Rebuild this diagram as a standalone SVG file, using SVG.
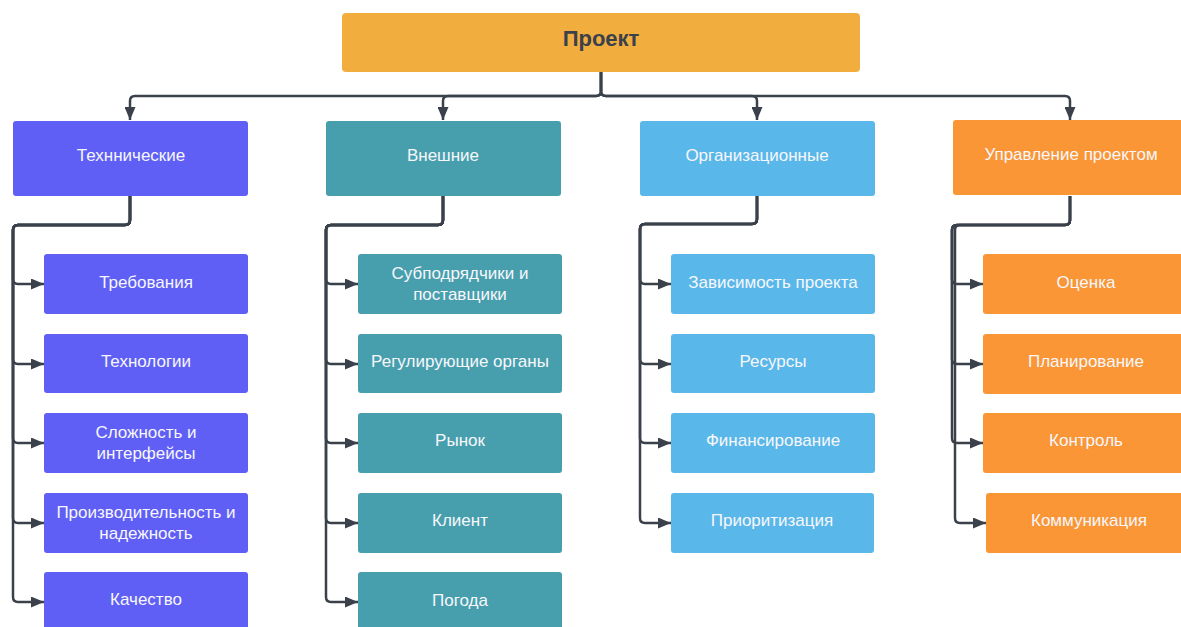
<svg xmlns="http://www.w3.org/2000/svg" width="1181" height="627" viewBox="0 0 1181 627">
<style>
.t{font-family:"Liberation Sans",Arial,sans-serif;font-size:17px;fill:#f7f7fb;text-anchor:middle}
.title{font-family:"Liberation Sans",Arial,sans-serif;font-size:22px;font-weight:bold;fill:#3a414a;text-anchor:middle}
.c{fill:none;stroke:#3a414a;stroke-width:2.5;marker-end:url(#ah)}
.pu{fill:#5f5ff6}.te{fill:#479fae}.bl{fill:#5ab7ea}.or{fill:#fa9636}
</style>
<defs>
<marker id="ah" markerUnits="userSpaceOnUse" markerWidth="13" markerHeight="11" refX="13" refY="5.5" orient="auto" viewBox="0 0 13 11">
<path d="M0,0 L13,5.5 L0,11 z" fill="#3a414a"/>
</marker>
</defs>
<rect width="1181" height="627" fill="#ffffff"/>
<g id="connectors">
<path class="c" d="M601,72 V91 Q601,96 596,96 H135 Q130,96 130,101 V120"/>
<path class="c" d="M601,72 V91 Q601,96 596,96 H448 Q443,96 443,101 V120"/>
<path class="c" d="M601,72 V91 Q601,96 606,96 H752 Q757,96 757,101 V120"/>
<path class="c" d="M601,72 V91 Q601,96 606,96 H1065 Q1070,96 1070,101 V120"/>
<path class="c" d="M130,196 V220 Q130,225 125,225 H18 Q13,225 13,230 V279 Q13,284 18,284 H44"/>
<path class="c" d="M130,196 V220 Q130,225 125,225 H18 Q13,225 13,230 V359 Q13,364 18,364 H44"/>
<path class="c" d="M130,196 V220 Q130,225 125,225 H18 Q13,225 13,230 V438 Q13,443 18,443 H44"/>
<path class="c" d="M130,196 V220 Q130,225 125,225 H18 Q13,225 13,230 V518 Q13,523 18,523 H44"/>
<path class="c" d="M130,196 V220 Q130,225 125,225 H18 Q13,225 13,230 V597 Q13,602 18,602 H44"/>
<path class="c" d="M443,196 V220 Q443,225 438,225 H331 Q326,225 326,230 V279 Q326,284 331,284 H358"/>
<path class="c" d="M443,196 V220 Q443,225 438,225 H331 Q326,225 326,230 V359 Q326,364 331,364 H358"/>
<path class="c" d="M443,196 V220 Q443,225 438,225 H331 Q326,225 326,230 V438 Q326,443 331,443 H358"/>
<path class="c" d="M443,196 V220 Q443,225 438,225 H331 Q326,225 326,230 V518 Q326,523 331,523 H358"/>
<path class="c" d="M443,196 V220 Q443,225 438,225 H331 Q326,225 326,230 V597 Q326,602 331,602 H358"/>
<path class="c" d="M757,196 V219 Q757,224 752,224 H645 Q640,224 640,229 V279 Q640,284 645,284 H671"/>
<path class="c" d="M757,196 V219 Q757,224 752,224 H645 Q640,224 640,229 V359 Q640,364 645,364 H671"/>
<path class="c" d="M757,196 V219 Q757,224 752,224 H645 Q640,224 640,229 V438 Q640,443 645,443 H671"/>
<path class="c" d="M757,196 V219 Q757,224 752,224 H645 Q640,224 640,229 V518 Q640,523 645,523 H671"/>
<path class="c" d="M1070,196 V220 Q1070,225 1065,225 H957 Q952,225 952,230 V279 Q952,284 957,284 H983"/>
<path class="c" d="M1070,196 V220 Q1070,225 1065,225 H957 Q952,225 952,230 V359 Q952,364 957,364 H983"/>
<path class="c" d="M1070,196 V220 Q1070,225 1065,225 H957 Q952,225 952,230 V438 Q952,443 957,443 H983"/>
<path class="c" d="M1070,196 V220 Q1070,225 1065,225 H960 Q955,225 955,230 V518 Q955,523 960,523 H986"/>
</g>
<g id="root"><rect x="342" y="13" width="518" height="59" rx="4" fill="#f1ae3f"/><text class="title" x="601" y="46">Проект</text></g>
<g id="tech"><rect class="pu" x="13" y="121" width="235" height="75" rx="3"/><text class="t" x="131" y="161">Техннические</text></g>
<g id="ext"><rect class="te" x="326" y="121" width="235" height="75" rx="3"/><text class="t" x="443" y="161">Внешние</text></g>
<g id="org"><rect class="bl" x="640" y="121" width="235" height="75" rx="3"/><text class="t" x="757" y="161">Организационные</text></g>
<g id="pm"><rect class="or" x="953" y="120" width="235" height="75" rx="3"/><text class="t" x="1071" y="160">Управление проектом</text></g>
<g id="t1"><rect class="pu" x="44" y="254" width="204" height="60" rx="3"/><text class="t" x="146" y="288">Требования</text></g>
<g id="t2"><rect class="pu" x="44" y="334" width="204" height="59" rx="3"/><text class="t" x="146" y="367">Технологии</text></g>
<g id="t3"><rect class="pu" x="44" y="413" width="204" height="60" rx="3"/><text class="t" x="146" y="438">Сложность и</text><text class="t" x="146" y="459">интерфейсы</text></g>
<g id="t4"><rect class="pu" x="44" y="493" width="204" height="60" rx="3"/><text class="t" x="146" y="518">Производительность и</text><text class="t" x="146" y="539">надежность</text></g>
<g id="t5"><rect class="pu" x="44" y="572" width="204" height="60" rx="3"/><text class="t" x="146" y="605">Качество</text></g>
<g id="e1"><rect class="te" x="358" y="254" width="204" height="60" rx="3"/><text class="t" x="460" y="279">Субподрядчики и</text><text class="t" x="460" y="300">поставщики</text></g>
<g id="e2"><rect class="te" x="358" y="334" width="204" height="59" rx="3"/><text class="t" x="460" y="367">Регулирующие органы</text></g>
<g id="e3"><rect class="te" x="358" y="413" width="204" height="60" rx="3"/><text class="t" x="460" y="446">Рынок</text></g>
<g id="e4"><rect class="te" x="358" y="493" width="204" height="60" rx="3"/><text class="t" x="460" y="526">Клиент</text></g>
<g id="e5"><rect class="te" x="358" y="572" width="204" height="60" rx="3"/><text class="t" x="460" y="606">Погода</text></g>
<g id="o1"><rect class="bl" x="671" y="254" width="204" height="60" rx="3"/><text class="t" x="773" y="288">Зависимость проекта</text></g>
<g id="o2"><rect class="bl" x="671" y="334" width="204" height="59" rx="3"/><text class="t" x="773" y="367">Ресурсы</text></g>
<g id="o3"><rect class="bl" x="671" y="413" width="204" height="60" rx="3"/><text class="t" x="773" y="446">Финансирование</text></g>
<g id="o4"><rect class="bl" x="671" y="493" width="203" height="60" rx="3"/><text class="t" x="772" y="526">Приоритизация</text></g>
<g id="p1"><rect class="or" x="983" y="254" width="206" height="60" rx="3"/><text class="t" x="1086" y="288">Оценка</text></g>
<g id="p2"><rect class="or" x="983" y="334" width="206" height="60" rx="3"/><text class="t" x="1086" y="367">Планирование</text></g>
<g id="p3"><rect class="or" x="983" y="413" width="206" height="60" rx="3"/><text class="t" x="1086" y="446">Контроль</text></g>
<g id="p4"><rect class="or" x="986" y="493" width="206" height="60" rx="3"/><text class="t" x="1089" y="526">Коммуникация</text></g>
</svg>
